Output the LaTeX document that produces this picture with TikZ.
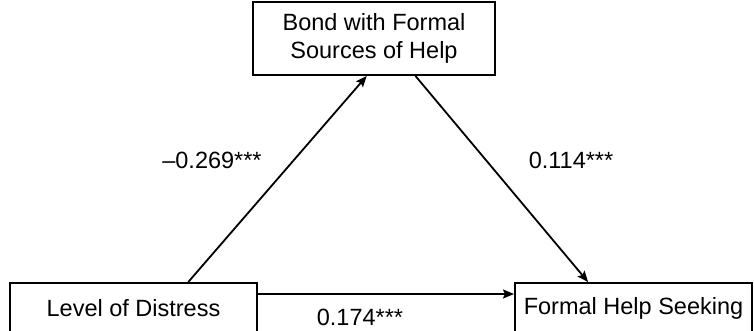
\documentclass[tikz,border=0pt]{standalone}
\usepackage{fontspec}
\setmainfont{Liberation Sans}
\usetikzlibrary{arrows.meta,calc}
\begin{document}
\begin{tikzpicture}[x=1pt,y=-1pt,
  box/.style={draw, line width=2pt, inner sep=0pt, align=center,
    font=\fontsize{23.5}{28}\selectfont},
  arr/.style={line width=1.8pt, -{Stealth[length=11pt,width=9pt,inset=2pt]}},
  coef/.style={inner sep=0pt, font=\fontsize{23.5}{28}\selectfont}]
\useasboundingbox (0,0) rectangle (754,331);
% variables
\node[box, minimum width=242pt, minimum height=73pt] (bond) at (374,38.5) {Bond with Formal\\Sources of Help};
\node[box, minimum width=247pt, minimum height=50pt] (lvl) at (133.5,308) {Level of Distress};
\node[box, minimum width=237pt, minimum height=50pt] (fhs) at (633.5,308) {Formal Help Seeking};
% paths
\coordinate (aS) at ($(lvl.north west)!0.72!(lvl.north east)$);
\coordinate (aE) at ($(bond.south west)!0.47!(bond.south east)$);
\coordinate (bS) at ($(bond.south west)!0.67!(bond.south east)$);
\coordinate (bE) at ($(fhs.north west)!0.31!(fhs.north east)$);
\draw[arr] (aS) -- (aE);
\draw[arr] (bS) -- (bE);
\draw[arr] ($(lvl.east)+(0,-14)$) -- ($(fhs.west)+(0,-14)$);
% coefficients
\node[coef] (c1) at (212,160) {–0.269***};
\node[coef] (c2) at (571,160) {0.114***};
\node[coef] (c3) at (360,317.5) {0.174***};
\end{tikzpicture}
\end{document}
